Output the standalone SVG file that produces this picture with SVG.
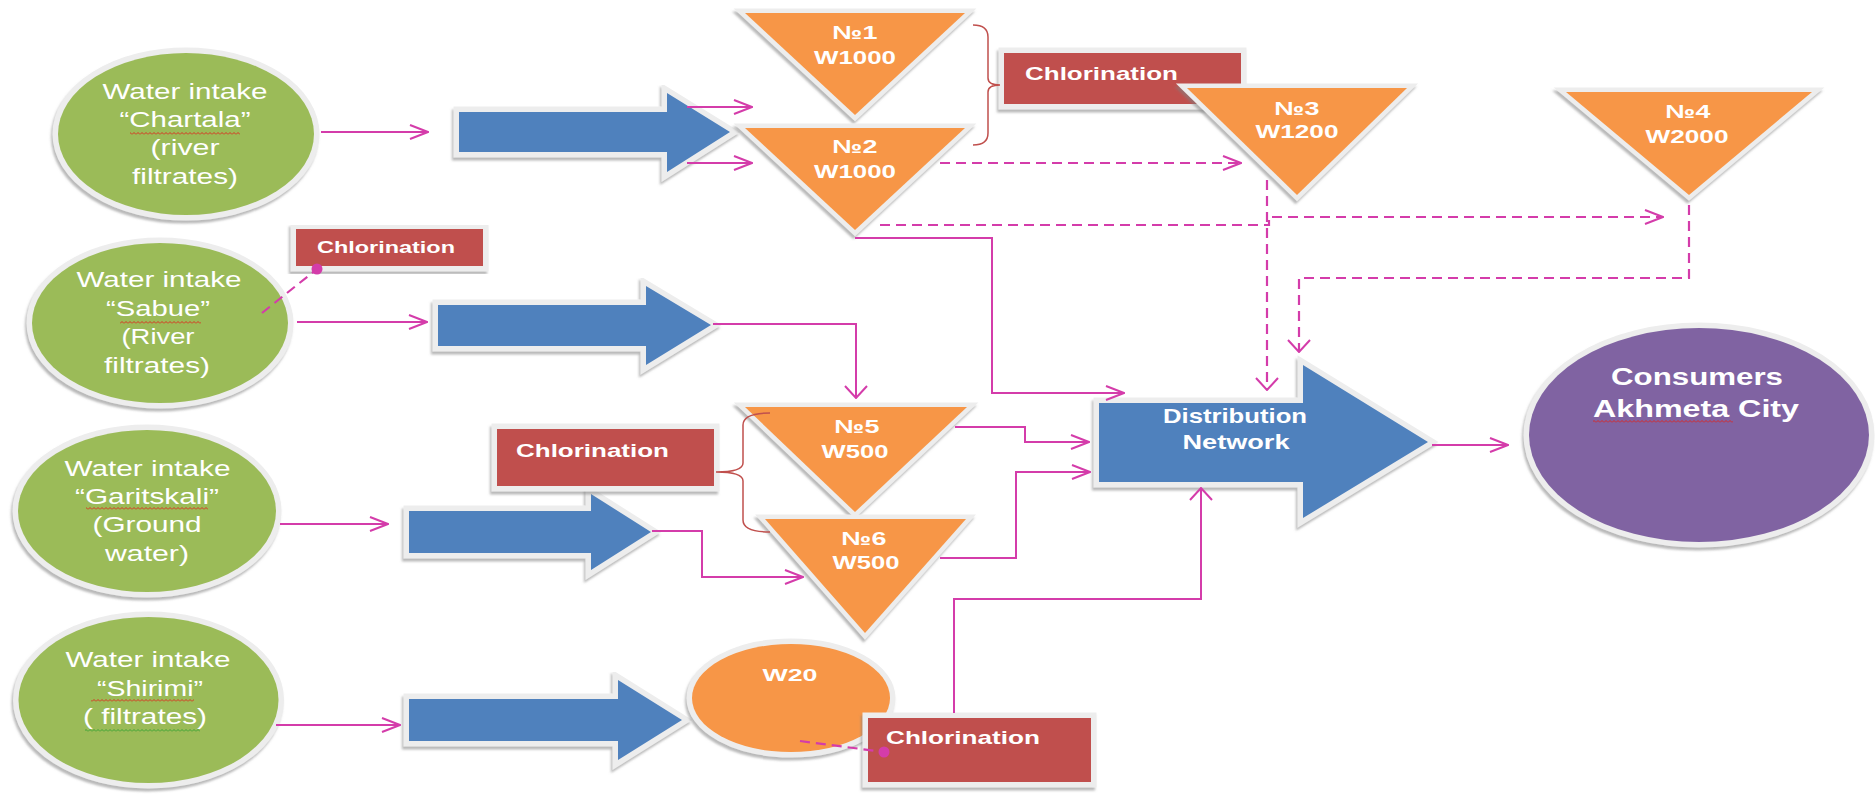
<svg xmlns="http://www.w3.org/2000/svg" width="1875" height="795" viewBox="0 0 1875 795">
<defs>
<style>
.t{font-family:"Liberation Sans",Arial,sans-serif;fill:#fff}
.r{font-size:22px}
.b{font-weight:bold}
.f19{font-size:19px}
.f17{font-size:17px}
.f20{font-size:20px}
.f23{font-size:23px}
.f16{font-size:16px}
.m{text-anchor:middle}
.bd{stroke:#EDEDED;stroke-width:11;paint-order:stroke;stroke-linejoin:miter;stroke-miterlimit:8;filter:url(#sh)}
.bt{stroke-width:9}
.green{fill:#9BBB59}
.org{fill:#F79646}
.red{fill:#C0504D}
.blue{fill:#4F81BD}
.pur{fill:#8064A2}
.c{fill:none;stroke:#D43CAA;stroke-width:2}
.d{stroke-dasharray:10 6;stroke-width:2.2}
.br{fill:none;stroke:#C0504D;stroke-width:1.5}
</style>
<filter id="sh" x="-10%" y="-10%" width="125%" height="130%">
<feDropShadow dx="-1.5" dy="3" stdDeviation="1.3" flood-color="#7f7f7f" flood-opacity="0.55"/>
</filter>
<marker id="ah" viewBox="0 0 20 16" refX="19" refY="8" markerWidth="20" markerHeight="16" orient="auto" markerUnits="userSpaceOnUse">
<path d="M1,1 L19,8 L1,15" fill="none" stroke="#D43CAA" stroke-width="2"/>
</marker>
<marker id="av" viewBox="0 0 14 24" refX="13" refY="12" markerWidth="14" markerHeight="24" orient="auto" markerUnits="userSpaceOnUse">
<path d="M1,1 L13,12 L1,23" fill="none" stroke="#D43CAA" stroke-width="2"/>
</marker>
<marker id="dot" viewBox="0 0 12 12" refX="6" refY="6" markerWidth="12" markerHeight="12" markerUnits="userSpaceOnUse">
<circle cx="6" cy="6" r="5.5" fill="#D43CAA"/>
</marker>
<pattern id="sqr" width="4" height="3" patternUnits="userSpaceOnUse">
<path d="M0,2.5 L2,0.5 L4,2.5" fill="none" stroke="#E0201A" stroke-width="0.9"/>
</pattern>
<pattern id="sqg" width="4" height="3" patternUnits="userSpaceOnUse">
<path d="M0,2.5 L2,0.5 L4,2.5" fill="none" stroke="#2EA02E" stroke-width="0.9"/>
</pattern>
</defs>
<rect width="1875" height="795" fill="#fff"/>

<g id="intake-chartala">
<ellipse class="green bd" cx="186" cy="134" rx="128" ry="81"/>
<text class="t r m" x="185" y="99" textLength="165" lengthAdjust="spacingAndGlyphs">Water intake</text>
<text class="t r m" x="185" y="127" textLength="131" lengthAdjust="spacingAndGlyphs">“Chartala”</text>
<text class="t r m" x="185" y="155" textLength="69" lengthAdjust="spacingAndGlyphs">(river</text>
<text class="t r m" x="185" y="184" textLength="106" lengthAdjust="spacingAndGlyphs">filtrates)</text>
<rect x="130" y="132" width="110" height="3" fill="url(#sqr)"/>
</g>

<g id="intake-sabue">
<ellipse class="green bd" cx="160" cy="323" rx="128" ry="80"/>
<text class="t r m" x="159" y="287" textLength="165" lengthAdjust="spacingAndGlyphs">Water intake</text>
<text class="t r m" x="158" y="316" textLength="104" lengthAdjust="spacingAndGlyphs">“Sabue”</text>
<text class="t r m" x="158" y="344" textLength="73" lengthAdjust="spacingAndGlyphs">(River</text>
<text class="t r m" x="157" y="373" textLength="106" lengthAdjust="spacingAndGlyphs">filtrates)</text>
<rect x="120" y="321" width="81" height="3" fill="url(#sqr)"/>
</g>

<g id="intake-garitskali">
<ellipse class="green bd" cx="147" cy="511" rx="129" ry="81"/>
<text class="t r m" x="147.5" y="476" textLength="166" lengthAdjust="spacingAndGlyphs">Water intake</text>
<text class="t r m" x="147" y="504" textLength="144" lengthAdjust="spacingAndGlyphs">“Garitskali”</text>
<text class="t r m" x="147" y="532" textLength="109" lengthAdjust="spacingAndGlyphs">(Ground</text>
<text class="t r m" x="147" y="561" textLength="84" lengthAdjust="spacingAndGlyphs">water)</text>
<rect x="86" y="507" width="122" height="3" fill="url(#sqr)"/>
</g>

<g id="intake-shirimi">
<ellipse class="green bd" cx="148.5" cy="700" rx="130" ry="83"/>
<text class="t r m" x="148" y="667" textLength="165" lengthAdjust="spacingAndGlyphs">Water intake</text>
<text class="t r m" x="150" y="696" textLength="106" lengthAdjust="spacingAndGlyphs">“Shirimi”</text>
<text class="t r m" x="145" y="724" textLength="124" lengthAdjust="spacingAndGlyphs">( filtrates)</text>
<rect x="91" y="699" width="103" height="3" fill="url(#sqr)"/>
<rect x="85" y="729" width="115" height="3" fill="url(#sqg)"/>
</g>

<g id="arrow-chartala">
<polygon class="blue bd" points="459,112 667,112 667,93 730,132 667,172 667,152 459,152"/>
</g>
<g id="arrow-sabue">
<polygon class="blue bd" points="438,305 646,305 646,286 711,325 646,365 646,346 438,346"/>
</g>
<g id="arrow-garitskali">
<polygon class="blue bd" points="409,511 591,511 591,494 651,532 591,570 591,553 409,553"/>
</g>
<g id="arrow-shirimi">
<polygon class="blue bd" points="409,699 618,699 618,680 682,720 618,760 618,741 409,741"/>
</g>

<g id="chlorination-1">
<rect class="red bd" x="1004" y="53" width="237" height="51"/>
<text class="t b f19" x="1025" y="80" textLength="153" lengthAdjust="spacingAndGlyphs">Chlorination</text>
</g>
<g id="chlorination-sabue">
<rect class="red bd" x="296" y="229" width="187" height="37"/>
<text class="t b f17" x="317" y="253" textLength="138" lengthAdjust="spacingAndGlyphs">Chlorination</text>
</g>
<g id="chlorination-garitskali">
<rect class="red bd" x="497" y="429" width="217" height="57"/>
<text class="t b f19" x="516" y="457" textLength="153" lengthAdjust="spacingAndGlyphs">Chlorination</text>
</g>

<g id="tank-1">
<polygon class="org bd bt" points="745,13 965,13 855,115"/>
<text class="t b f19 m" x="855" y="39" textLength="45" lengthAdjust="spacingAndGlyphs">№1</text>
<text class="t b f19 m" x="855" y="64" textLength="82" lengthAdjust="spacingAndGlyphs">W1000</text>
</g>
<g id="tank-2">
<polygon class="org bd bt" points="745,128 965,128 855,230"/>
<text class="t b f19 m" x="855" y="153" textLength="45" lengthAdjust="spacingAndGlyphs">№2</text>
<text class="t b f19 m" x="855" y="178" textLength="82" lengthAdjust="spacingAndGlyphs">W1000</text>
</g>
<g id="tank-3">
<polygon class="org bd bt" points="1187,88 1407,88 1297,195"/>
<text class="t b f19 m" x="1297" y="115" textLength="45" lengthAdjust="spacingAndGlyphs">№3</text>
<text class="t b f19 m" x="1297" y="138" textLength="83" lengthAdjust="spacingAndGlyphs">W1200</text>
</g>
<g id="tank-4">
<polygon class="org bd bt" points="1566,92 1812,92 1689,195"/>
<text class="t b f19 m" x="1688" y="118" textLength="45" lengthAdjust="spacingAndGlyphs">№4</text>
<text class="t b f19 m" x="1687" y="143" textLength="83" lengthAdjust="spacingAndGlyphs">W2000</text>
</g>
<g id="tank-5">
<polygon class="org bd bt" points="745,407 967,407 855,512"/>
<text class="t b f19 m" x="857" y="433" textLength="45" lengthAdjust="spacingAndGlyphs">№5</text>
<text class="t b f19 m" x="855" y="458" textLength="67" lengthAdjust="spacingAndGlyphs">W500</text>
</g>
<g id="tank-6">
<polygon class="org bd bt" points="765,519 966,519 865,633"/>
<text class="t b f19 m" x="864" y="545" textLength="45" lengthAdjust="spacingAndGlyphs">№6</text>
<text class="t b f19 m" x="866" y="569" textLength="67" lengthAdjust="spacingAndGlyphs">W500</text>
</g>

<g id="tank-w20">
<ellipse class="org bd" cx="791" cy="698" rx="99" ry="54"/>
<text class="t b f16 m" x="790" y="681" textLength="55" lengthAdjust="spacingAndGlyphs">W20</text>
</g>
<g id="chlorination-w20">
<rect class="red bd" x="868" y="718" width="223" height="64"/>
<text class="t b f19" x="886" y="744" textLength="154" lengthAdjust="spacingAndGlyphs">Chlorination</text>
</g>

<g id="distribution-network">
<polygon class="blue bd" points="1099,403 1303,403 1303,365 1428,442 1303,518 1303,482 1099,482"/>
<text class="t b f20 m" x="1235" y="423" textLength="144" lengthAdjust="spacingAndGlyphs">Distribution</text>
<text class="t b f20 m" x="1236" y="449" textLength="107" lengthAdjust="spacingAndGlyphs">Network</text>
</g>

<g id="consumers">
<ellipse class="pur bd" cx="1699" cy="435" rx="170" ry="107"/>
<text class="t b f23 m" x="1697" y="385" textLength="172" lengthAdjust="spacingAndGlyphs">Consumers</text>
<text class="t b f23 m" x="1696" y="417" textLength="206" lengthAdjust="spacingAndGlyphs">Akhmeta City</text>
<rect x="1593" y="420" width="140" height="3" fill="url(#sqr)"/>
</g>

<g id="connectors">
<path class="c" d="M321,132 H428" marker-end="url(#ah)"/>
<path class="c" d="M687,107 H752" marker-end="url(#ah)"/>
<path class="c" d="M687,163 H752" marker-end="url(#ah)"/>
<path class="c" d="M297,322 H427" marker-end="url(#ah)"/>
<path class="c" d="M713,324 H856 V398" marker-end="url(#av)"/>
<path class="c" d="M280,524 H388" marker-end="url(#ah)"/>
<path class="c" d="M652,531 H702 V577 H803" marker-end="url(#ah)"/>
<path class="c" d="M276,725 H400" marker-end="url(#ah)"/>
<path class="c" d="M855,238 H992 V393 H1124" marker-end="url(#ah)"/>
<path class="c" d="M955,427 H1025 V442 H1089" marker-end="url(#ah)"/>
<path class="c" d="M940,558 H1016 V472 H1090" marker-end="url(#ah)"/>
<path class="c" d="M954,713 V599 H1201 V488" marker-end="url(#av)"/>
<path class="c" d="M1432,445 H1508" marker-end="url(#ah)"/>
<path class="c d" d="M940,163 H1241" marker-end="url(#ah)"/>
<path class="c d" d="M880,225 H1269 V217 H1663" marker-end="url(#ah)"/>
<path class="c d" d="M1267,180 V390" marker-end="url(#av)"/>
<path class="c d" d="M1689,205 V278 H1299 V352" marker-end="url(#av)"/>
<path class="c d" d="M262,313 L317,269" marker-end="url(#dot)"/>
<path class="c d" d="M800,741 L884,752" marker-end="url(#dot)"/>
<path class="br" d="M973,25 Q988,25 988,37 V78 Q988,85 1000,85 Q988,85 988,92 V133 Q988,145 973,145"/>
<path class="br" d="M770,413 Q743,413 743,425 V463 Q743,472 716,472 Q743,472 743,481 V520 Q743,532 770,532"/>
</g>
</svg>
